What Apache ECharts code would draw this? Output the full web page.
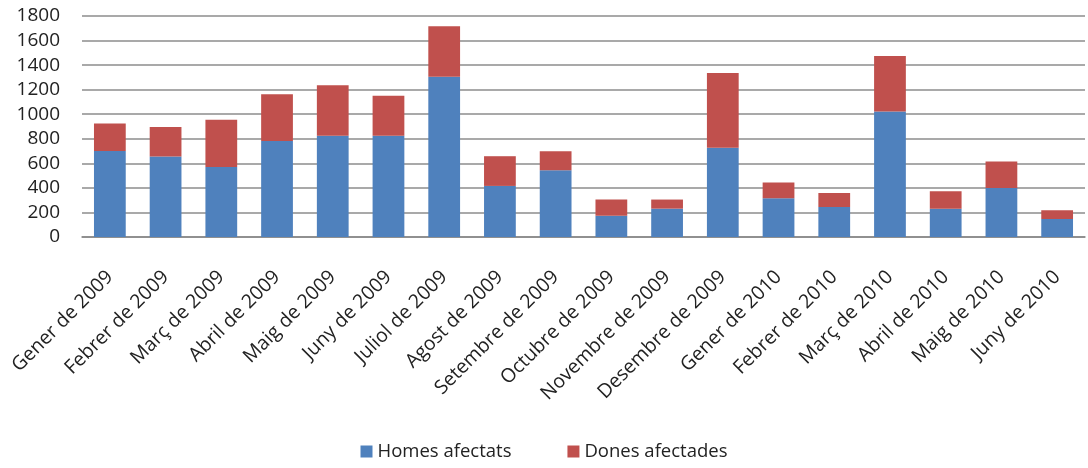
<!DOCTYPE html>
<html><head><meta charset="utf-8">
<script src="https://cdn.jsdelivr.net/npm/echarts@6/dist/echarts.min.js"></script>
<style>html,body{margin:0;padding:0;background:#fff}#c{width:1088px;height:468px}</style>
</head><body><div id="c"></div>
<script>
const categories = ["Gener de 2009","Febrer de 2009","Març de 2009","Abril de 2009","Maig de 2009","Juny de 2009","Juliol de 2009","Agost de 2009","Setembre de 2009","Octubre de 2009","Novembre de 2009","Desembre de 2009","Gener de 2010","Febrer de 2010","Març de 2010","Abril de 2010","Maig de 2010","Juny de 2010"];
const homes = [700,656,571,781,824,824,1306,416,544,174,231,726,316,245,1023,231,400,147];
const dones = [225,239,384,381,411,327,410,242,155,131,74,610,127,114,451,142,215,71];
const yTicks = [0,200,400,600,800,1000,1200,1400,1600,1800];

const chart = echarts.init(document.getElementById('c'), null, {renderer:'canvas'});
const font = "'Open Sans', 'Liberation Sans', sans-serif";
chart.setOption({
  animation:false,
  textStyle:{fontFamily:font},
  grid:{left:82,right:3,top:16,height:221,containLabel:false},
  legend:{
    bottom:2,left:'center',itemWidth:12,itemHeight:12,itemGap:56,icon:'rect',
    textStyle:{fontFamily:font,fontSize:18.5,color:'#222'},
    data:['Homes afectats','Dones afectades']
  },
  xAxis:{
    type:'category',data:categories,
    axisLine:{lineStyle:{color:'#888',width:1.5}},
    axisTick:{show:false},
    axisLabel:{rotate:45,interval:0,fontFamily:font,fontSize:19.5,color:'#222',margin:37}
  },
  yAxis:{
    type:'value',min:yTicks[0],max:yTicks[yTicks.length-1],interval:200,
    axisLine:{show:false},axisTick:{show:false},
    splitLine:{lineStyle:{color:'#8c8c8c',width:1.5}},
    axisLabel:{fontFamily:font,fontSize:19,color:'#222',margin:22,formatter:function(v){return String(v);}}
  },
  series:[
    {name:'Homes afectats',type:'bar',stack:'t',data:homes,barWidth:'57%',itemStyle:{color:'#4f81bd'}},
    {name:'Dones afectades',type:'bar',stack:'t',data:dones,barWidth:'57%',itemStyle:{color:'#c0504d'}}
  ]
});
</script></body></html>
